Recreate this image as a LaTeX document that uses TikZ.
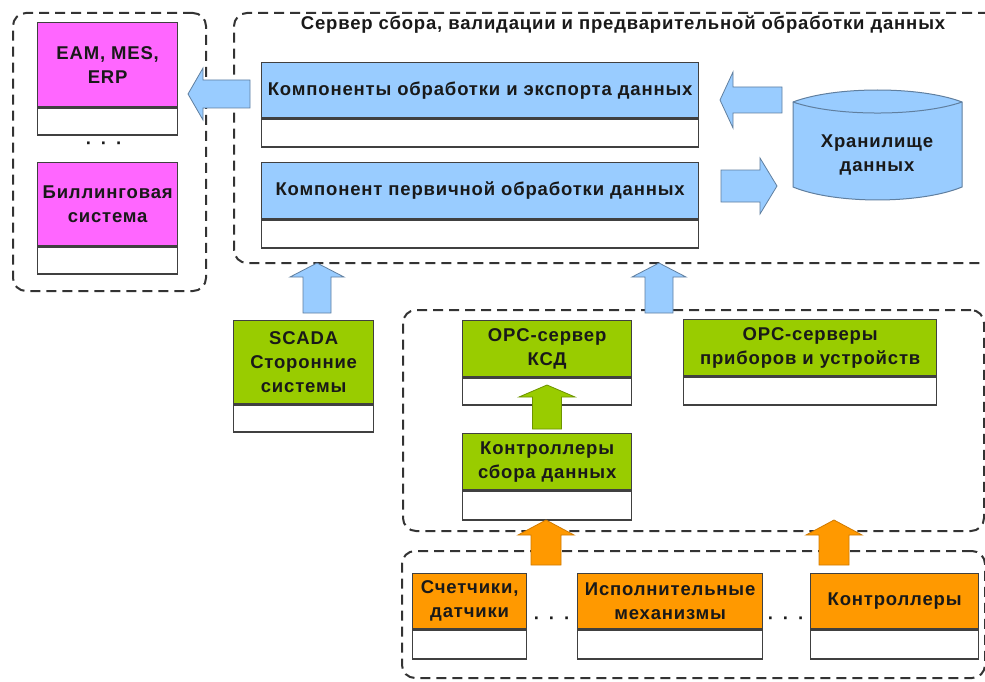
\documentclass[tikz,border=0pt]{standalone}
\usepackage{fontspec}
\setmainfont[LetterSpace=4.5]{Liberation Sans}
\usetikzlibrary{calc}
\definecolor{magc}{HTML}{FF66FF}
\definecolor{bluec}{HTML}{99CCFF}
\definecolor{greenc}{HTML}{99CC00}
\definecolor{orangec}{HTML}{FF9900}
\definecolor{boxline}{HTML}{404040}
\definecolor{dashc}{HTML}{333333}
\definecolor{bluearr}{HTML}{607F9F}
\definecolor{greenarr}{HTML}{6E9400}
\definecolor{orangearr}{HTML}{D07A00}
\tikzset{
  txt/.style={font=\bfseries\fontsize{18.5}{24}\selectfont, align=center, text=black!90},
  hdr/.style={txt, draw=boxline, line width=1.3pt, inner sep=0pt},
  lowbox/.style={draw=boxline, line width=1.3pt, fill=white, inner sep=0pt},
  cont/.style={draw=dashc, line width=2pt, dash pattern=on 10pt off 6pt, rounded corners=13pt, inner sep=0pt},
  barrow/.style={fill=bluec, draw=bluearr, line width=0.8pt, line join=miter},
  garrow/.style={fill=greenc, draw=greenarr, line width=0.8pt},
  oarrow/.style={fill=orangec, draw=orangearr, line width=0.8pt},
}
% name, x1, x2, ytop, ysplit, ybottom, colour, text
\newcommand\umlbox[8]{%
  \node[hdr, fill=#7, minimum width={#3-#2}, minimum height={#5-#4}, anchor=north west] (#1) at (#2,#4) {#8};
  \node[lowbox, minimum width={#3-#2}, minimum height={#6-#5}, anchor=north west] (#1-low) at (#1.south west) {};
}
% container: name, x1, y1, x2, y2
\newcommand\contbox[5]{%
  \node[cont, minimum width={#4-#2}, minimum height={#5-#3}, anchor=north west] (#1) at (#2,#3) {};
}
% up arrow: tail, tip, bodyhalf, headhalf, headlen, style
\newcommand\uparr[6]{%
  \draw[#6] ($(#1)+(-#3,0)$) -- ($(#2)+(-#3,#5)$) -- ($(#2)+(-#4,#5)$) -- (#2)
    -- ($(#2)+(#4,#5)$) -- ($(#2)+(#3,#5)$) -- ($(#1)+(#3,0)$) -- cycle;
}
% horizontal arrow: tail, tip, bodyhalf, headhalf, headlen (signed: + for rightwards), style
\newcommand\harr[6]{%
  \draw[#6] ($(#1)+(0,-#3)$) -- ($(#2)+({-(#5)},-#3)$) -- ($(#2)+({-(#5)},-#4)$) -- (#2)
    -- ($(#2)+({-(#5)},#4)$) -- ($(#2)+({-(#5)},#3)$) -- ($(#1)+(0,#3)$) -- cycle;
}
\begin{document}
\begin{tikzpicture}[x=1pt,y=-1pt]
\useasboundingbox (0,0) rectangle (985,682);
\fill[white] (0,0) rectangle (985,682);

% containers
\contbox{consumers}{12}{12}{205}{290}
\contbox{server}{233}{12}{1000}{262}
\contbox{collect}{402}{309}{983}{530}
\contbox{field}{401}{550}{984}{677}

\node[txt, anchor=center] (title) at (623,25) {Сервер сбора, валидации и предварительной обработки данных};

% consumers
\umlbox{eam}{37}{177}{22}{106}{133}{magc}{EAM, MES,\\ERP}
\node[txt] (dots1) at (104,146) {·\hspace{9pt}·\hspace{9pt}·};
\umlbox{bill}{37}{177}{162}{245}{272}{magc}{Биллинговая\\система}

% server components
\umlbox{comp1}{261}{698}{62}{117}{145}{bluec}{Компоненты обработки и экспорта данных}
\umlbox{comp2}{261}{698}{162}{218}{246}{bluec}{Компонент первичной обработки данных}

% storage cylinder
\draw[fill=bluec, draw=bluearr, line width=1pt]
  (793,102) .. controls (835,86) and (920,86) .. (962,102) -- (962,187)
  .. controls (920,204.3) and (835,204.3) .. (793,187) -- cycle;
\draw[draw=bluearr, line width=1pt] (793,102) .. controls (835,116.7) and (920,116.7) .. (962,102);
\node[txt] (store) at (877,155) {Хранилище\\данных};

% sources
\umlbox{scada}{233}{373}{320}{403}{430}{greenc}{SCADA\\Сторонние\\системы}
\umlbox{opc}{462}{631}{320}{376}{403}{greenc}{OPC-сервер\\КСД}
\umlbox{ctrl}{462}{631}{433}{489}{518}{greenc}{Контроллеры\\сбора данных}
\umlbox{opcs}{683}{936}{319}{375}{403}{greenc}{OPC-серверы\\приборов и устройств}

% field devices
\umlbox{meters}{412}{526}{573}{628}{657}{orangec}{Счетчики,\\датчики}
\node[txt] (dots2) at (552,621) {·\hspace{9pt}·\hspace{9pt}·};
\umlbox{actu}{577}{762}{573}{628}{657}{orangec}{Исполнительные\\механизмы}
\node[txt] (dots3) at (786,621) {·\hspace{9pt}·\hspace{9pt}·};
\umlbox{plc}{810}{978}{573}{628}{657}{orangec}{Контроллеры}

% arrow end points
\coordinate (a1t) at (250,94);  \coordinate (a1h) at (188,94);
\coordinate (a2t) at (782,100); \coordinate (a2h) at (720,100);
\coordinate (a3t) at (721,186); \coordinate (a3h) at (777,186);
\coordinate (a4t) at (317,313); \coordinate (a4h) at (317,263);
\coordinate (a5t) at (659,313); \coordinate (a5h) at (659,263);
\coordinate (a6t) at (547,429); \coordinate (a6h) at (547,385);
\coordinate (a7t) at (546,565); \coordinate (a7h) at (546,520);
\coordinate (a8t) at (834,565); \coordinate (a8h) at (834,520);

\harr{a1t}{a1h}{14}{26}{-15}{barrow}
\harr{a2t}{a2h}{13}{28}{-13}{barrow}
\harr{a3t}{a3h}{16}{28}{17}{barrow}
\uparr{a4t}{a4h}{14}{27}{14}{barrow}
\uparr{a5t}{a5h}{14}{27}{14}{barrow}
\uparr{a6t}{a6h}{14.5}{28}{12}{garrow}
\uparr{a7t}{a7h}{15}{28}{15}{oarrow}
\uparr{a8t}{a8h}{15}{28}{15}{oarrow}
\end{tikzpicture}
\end{document}
